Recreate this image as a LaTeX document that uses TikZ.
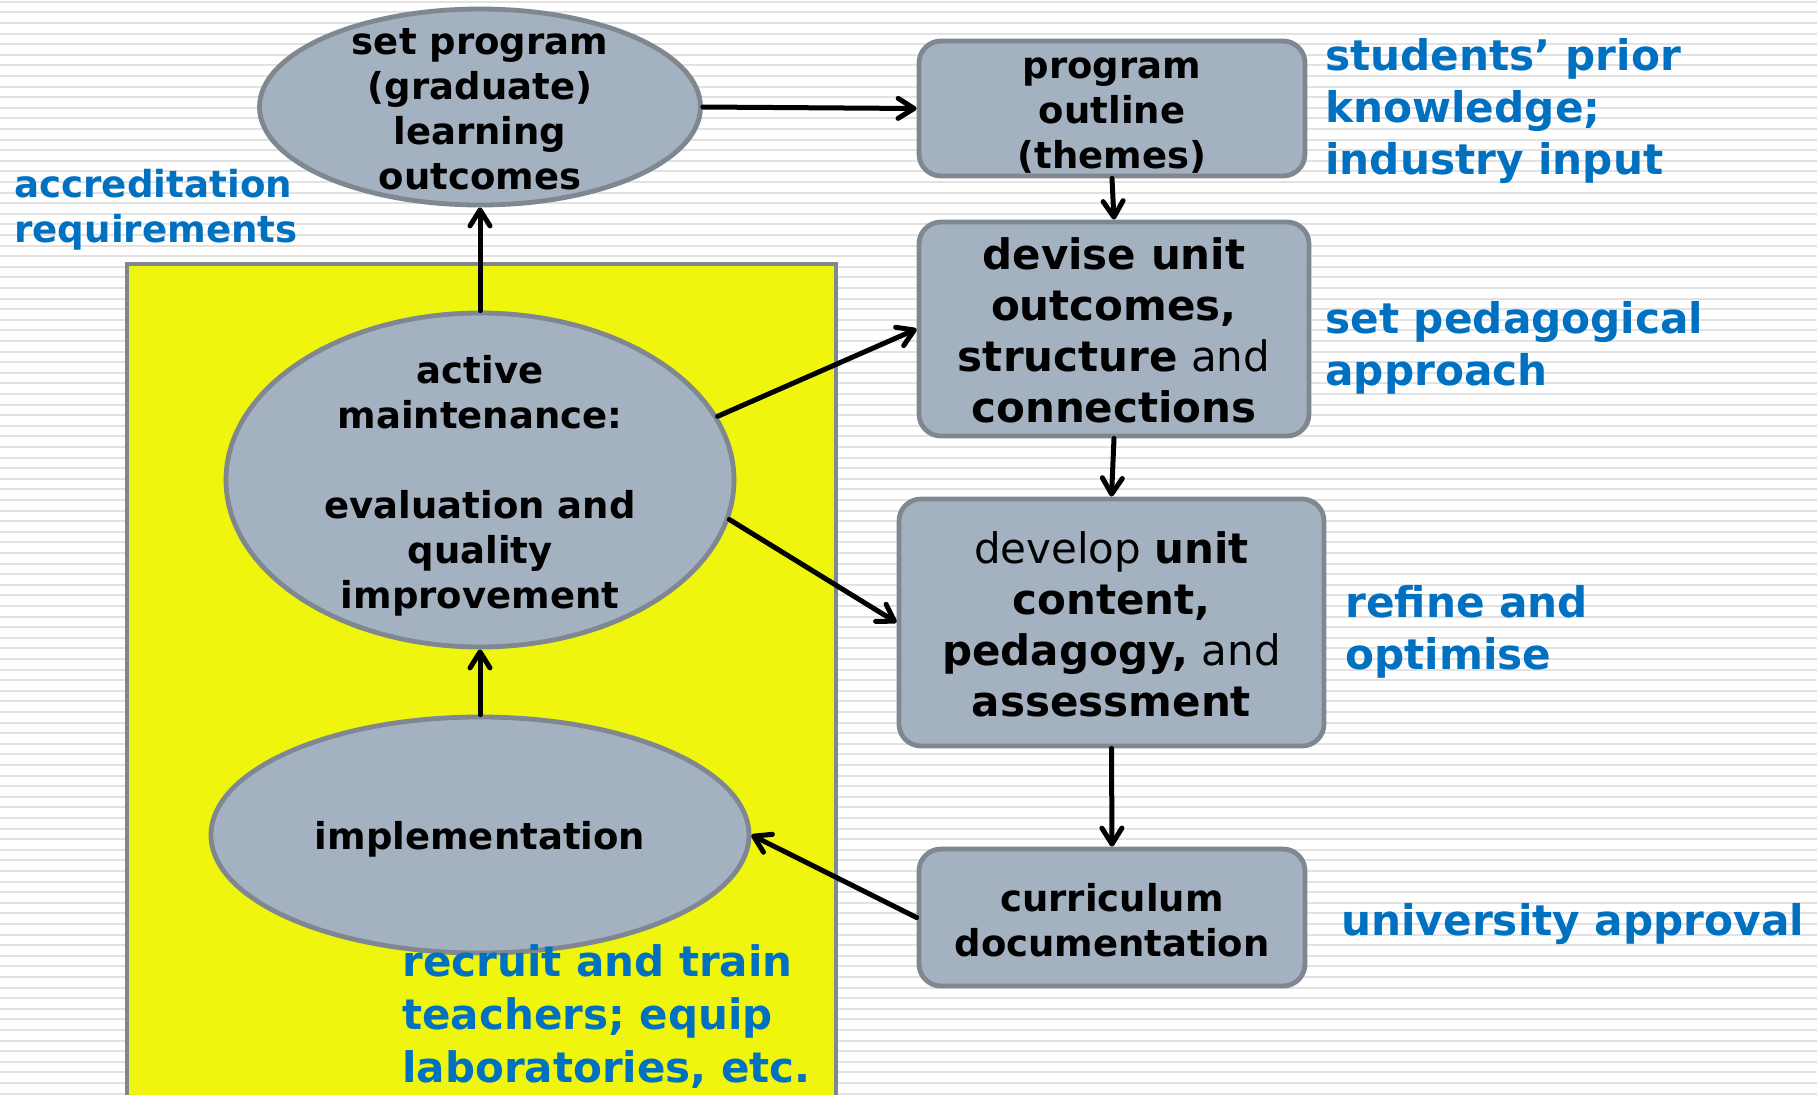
\documentclass[tikz,border=0pt]{standalone}
\usepackage{fontspec}
\setmainfont{DejaVu Sans}
\usetikzlibrary{shapes.geometric,arrows.meta}
\definecolor{nodefill}{HTML}{A3B1C0}
\definecolor{nodeline}{HTML}{7F8790}
\definecolor{notecol}{HTML}{0070C0}
\definecolor{panelyel}{HTML}{EFF50C}
\definecolor{stripecol}{HTML}{E2E2E2}

\begin{document}
\begin{tikzpicture}[x=0.5pt,y=-0.5pt,
    oval/.style={ellipse, draw=nodeline, fill=nodefill, line width=2.4pt, inner sep=0},
    box/.style={rectangle, rounded corners=11pt, draw=nodeline, fill=nodefill, line width=2.4pt, inner sep=0},
    txt/.style={align=center, inner sep=0, font=\bfseries\fontsize{18.5}{22.5}\selectfont},
    bigtxt/.style={align=center, inner sep=0, font=\fontsize{21}{25.5}\selectfont},
    note/.style={align=left, anchor=west, inner sep=0, text=notecol, font=\bfseries\fontsize{21.1}{26}\selectfont},
    flow/.style={-{Straight Barb[length=8pt,width=10pt,round]}, line width=2.5pt, line cap=round}]

                    \useasboundingbox (0,0) rectangle (1817,1094);
                    \fill [white] (0,0) rectangle (1817,1094);
                    \foreach \i in {0,...,103}
                        \draw [stripecol, line width=1pt] (0,{1.7+10.6*\i}) -- (1817,{1.7+10.6*\i});
                    \draw [draw=nodeline, fill=panelyel, line width=2pt] (127,264) rectangle (836,1100);

                    \node [oval, minimum width=220.5pt, minimum height=98pt] (setprog) at (480,107) {};
                    \node [txt] (setprogtxt) at (480,109) {set program\\(graduate)\\learning\\outcomes};
                    \node [oval, minimum width=254pt, minimum height=167pt] (maint) at (480,480) {};
                    \node [txt] (mainttxt) at (480,486) {active\\maintenance:\\[22.5pt]evaluation and\\quality\\improvement};
                    \node [oval, minimum width=269pt, minimum height=118pt] (impl) at (480,835) {};
                    \node [txt] (impltxt) at (480,839) {implementation};

                    \node [box, minimum width=193pt, minimum height=67.5pt] (outline) at (1112,108.5) {};
                    \node [txt] (outlinetxt) at (1112,116) {program\\outline\\(themes)};
                    \node [box, minimum width=195pt, minimum height=107pt] (devise) at (1114,329) {};
                    \node [bigtxt] (devisetxt) at (1114,330) {\textbf{devise unit}\\\textbf{outcomes,}\\\textbf{structure} and\\\textbf{connections}};
                    \node [box, minimum width=212.5pt, minimum height=123.5pt] (develop) at (1111.5,622.5) {};
                    \node [bigtxt] (developtxt) at (1111.5,624) {develop \textbf{unit}\\\textbf{content,}\\\textbf{pedagogy,} and\\\textbf{assessment}};
                    \node [box, minimum width=193pt, minimum height=68.5pt] (curric) at (1112,917.5) {};
                    \node [txt] (currictxt) at (1112,920) {curriculum\\documentation};

                    \node [note, font=\bfseries\fontsize{18.6}{22.5}\selectfont] (accred) at (14,210) {accreditation\\requirements};
                    \node [note] (prior) at (1325,111) {students’ prior\\knowledge;\\industry input};
                    \node [note] (pedag) at (1325,348) {set pedagogical\\approach};
                    \node [note] (refine) at (1345,632) {refine and\\optimise};
                    \node [note] (approval) at (1341,924) {university approval};
                    \node [note, font=\bfseries\fontsize{21}{26.5}\selectfont] (recruit) at (402,1017) {recruit and train\\teachers; equip\\laboratories, etc.};

                    \draw [flow] (setprog.east) -- (outline.west);
                    \draw [flow] (outline.south) -- (devise.north);
                    \draw [flow] (devise.south) -- (develop.north);
                    \draw [flow] (develop.south) -- (curric.north);
                    \draw [flow] (curric.west) -- (impl.east);
                    \draw [flow] (impl.north) -- (maint.south);
                    \draw [flow] (maint.north) -- (setprog.south);
                    \draw [flow] (maint.15) -- (devise.west);
                    \draw [flow] (maint.-9) -- (develop.west);

\end{tikzpicture}
\end{document}
